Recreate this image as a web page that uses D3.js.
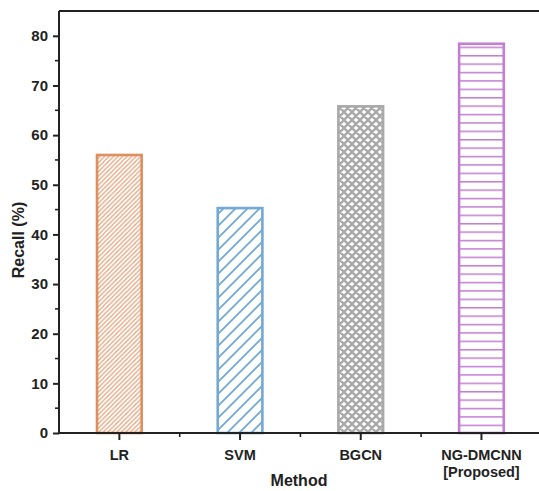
<!DOCTYPE html>
<html><head><meta charset="utf-8">
<script src="https://cdn.jsdelivr.net/npm/d3@7"></script>
<style>body{margin:0;background:#fff;} text{font-family:"Liberation Sans",Arial,sans-serif;font-weight:bold;}</style>
</head><body><svg id="c" width="539" height="491"></svg>
<script>
const categories = ["LR", "SVM", "BGCN", "NG-DMCNN|[Proposed]"];
const values = [56.0, 45.3, 65.8, 78.4];
const colors = ["#de8f5f", "#72a9d6", "#a9a9a9", "#c17ed3"];
const patterns = ["fine", "diag", "cross", "horiz"];
const yTicks = [0, 10, 20, 30, 40, 50, 60, 70, 80];

const svg = d3.select("#c");
const m = {l: 59, t: 11, r: 0, b: 58};
const W = 539, H = 491;
const x = d3.scaleBand().domain(categories).range([m.l, m.l + 4 * 120.7]).paddingInner(0.63).paddingOuter(0.315);
const y = d3.scaleLinear().domain([0, 85]).range([433, m.t]);

const defs = svg.append("defs");
function pat(id, color, type) {
  let p;
  if (type === "fine") {
    p = defs.append("pattern").attr("id", id).attr("patternUnits", "userSpaceOnUse").attr("width", 4.5).attr("height", 4.5);
    p.append("path").attr("d", "M-1,5.5 L5.5,-1 M-1,1 L1,-1 M3.5,5.5 L5.5,3.5").attr("stroke", color).attr("stroke-width", 1.2).attr("opacity", 0.85);
  } else if (type === "diag") {
    p = defs.append("pattern").attr("id", id).attr("patternUnits", "userSpaceOnUse").attr("width", 12).attr("height", 12);
    p.append("path").attr("d", "M-1,13 L13,-1 M-1,1 L1,-1 M11,13 L13,11").attr("stroke", color).attr("stroke-width", 1.8);
  } else if (type === "cross") {
    p = defs.append("pattern").attr("id", id).attr("patternUnits", "userSpaceOnUse").attr("width", 8).attr("height", 8);
    p.append("path").attr("d", "M-1,9 L9,-1 M-1,1 L1,-1 M7,9 L9,7 M-1,-1 L9,9 M-1,7 L1,9 M7,-1 L9,1").attr("stroke", color).attr("stroke-width", 2.4);
  } else {
    p = defs.append("pattern").attr("id", id).attr("patternUnits", "userSpaceOnUse").attr("width", 10).attr("height", 8.4).attr("y", 433);
    p.append("path").attr("d", "M-1,0 L11,0").attr("stroke", color).attr("stroke-width", 3);
  }
}
categories.forEach((c, i) => pat("p" + i, colors[i], patterns[i]));

svg.selectAll("rect.bar").data(categories).enter().append("rect")
  .attr("x", d => x(d)).attr("width", x.bandwidth())
  .attr("y", (d, i) => y(values[i])).attr("height", (d, i) => y(0) - y(values[i]))
  .attr("fill", (d, i) => "url(#p" + i + ")")
  .attr("stroke", (d, i) => colors[i]).attr("stroke-width", 2.6);

// top border
svg.append("line").attr("x1", m.l).attr("x2", W).attr("y1", m.t).attr("y2", m.t).attr("stroke", "#222").attr("stroke-width", 2);

// y axis
const ya = svg.append("g").attr("transform", `translate(${m.l},0)`)
  .call(d3.axisLeft(y).tickValues(yTicks).tickSize(6).tickPadding(5).tickFormat(d3.format("d")));
ya.select(".domain").attr("stroke", "#222").attr("stroke-width", 2).attr("d", `M0,${m.t}V${y(0)}`);
ya.selectAll(".tick line").attr("stroke", "#222").attr("stroke-width", 2);
ya.selectAll("text").attr("font-size", 15).attr("fill", "#222");
const minor = d3.range(5, 85, 10);
svg.append("g").selectAll("line").data(minor).enter().append("line")
  .attr("x1", m.l - 4).attr("x2", m.l).attr("y1", d => y(d)).attr("y2", d => y(d)).attr("stroke", "#222").attr("stroke-width", 1.6);

// x axis
svg.append("line").attr("x1", m.l).attr("x2", W).attr("y1", y(0)).attr("y2", y(0)).attr("stroke", "#222").attr("stroke-width", 2);
categories.forEach((c, i) => {
  const cx = x(c) + x.bandwidth() / 2;
  svg.append("line").attr("x1", cx).attr("x2", cx).attr("y1", y(0)).attr("y2", y(0) + 7).attr("stroke", "#222").attr("stroke-width", 2);
  if (i > 0) {
    const mx = cx - x.step() / 2;
    svg.append("line").attr("x1", mx).attr("x2", mx).attr("y1", y(0)).attr("y2", y(0) + 4).attr("stroke", "#222").attr("stroke-width", 1.6);
  }
  const t = svg.append("text").attr("x", cx).attr("y", 460).attr("text-anchor", "middle").attr("font-size", 14.5).attr("fill", "#222");
  c.split("|").forEach((s, k) => t.append("tspan").attr("x", cx).attr("dy", k ? 17 : 0).text(s));
});

svg.append("text").attr("x", 299).attr("y", 486).attr("text-anchor", "middle").attr("font-size", 16).attr("fill", "#222").text("Method");
svg.append("text").attr("transform", "translate(24,240) rotate(-90)").attr("text-anchor", "middle").attr("font-size", 16).attr("fill", "#222").text("Recall (%)");
</script></body></html>
